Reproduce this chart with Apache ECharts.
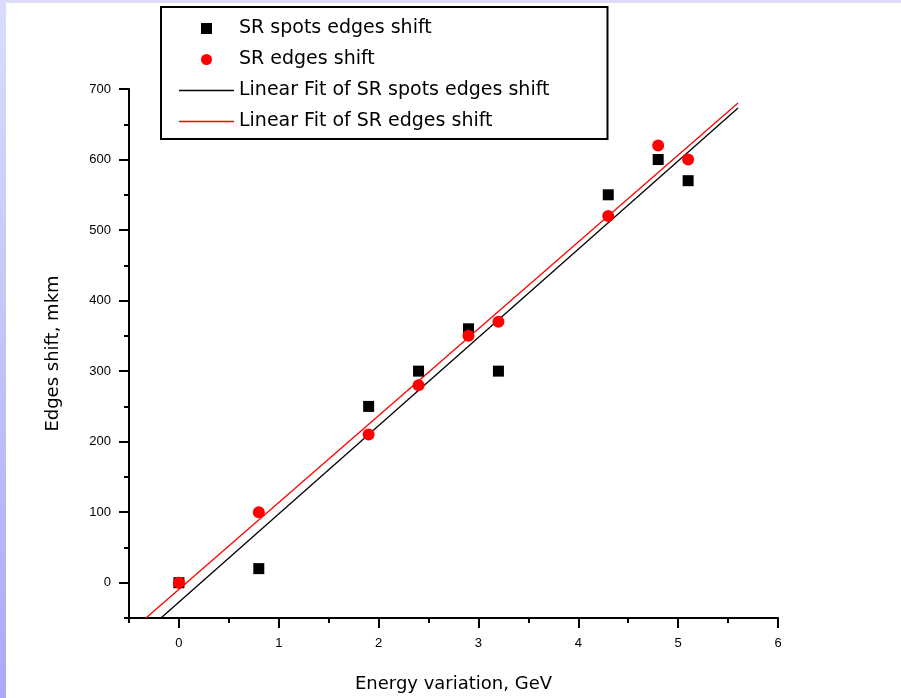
<!DOCTYPE html>
<html>
<head>
<meta charset="utf-8">
<script src="https://cdn.jsdelivr.net/npm/echarts@6/dist/echarts.min.js"></script>
<style>
html, body { margin: 0; padding: 0; background: #fff; }
#chart { width: 901px; height: 698px; }
</style>
</head>
<body>
<div id="chart"></div>
<script>
// measured points
var energyX = [0, 0.8, 1.9, 2.4, 2.9, 3.2, 4.3, 4.8, 5.1];
var spotsShift = [0, 20, 250, 300, 360, 300, 550, 600, 570];
var edgesShift = [0, 100, 210, 280, 350, 370, 520, 620, 600];

// fit line ends
var fitSpotsX = [-0.18, 5.6];
var fitSpotsY = [-50, 673];
var fitEdgesX = [-0.33, 5.6];
var fitEdgesY = [-50, 680];

// ticks
var xMajor = [0, 1, 2, 3, 4, 5, 6];
var xMinor = [-0.5, 0.5, 1.5, 2.5, 3.5, 4.5, 5.5];
var yMajor = [0, 100, 200, 300, 400, 500, 600, 700];
var yMinor = [-50, 50, 150, 250, 350, 450, 550, 650];

var names = ['SR spots edges shift', 'SR edges shift',
    'Linear Fit of SR spots edges shift', 'Linear Fit of SR edges shift'];

function pairs(xs, ys) {
    var out = [];
    for (var i = 0; i < xs.length; i++) out.push([xs[i], ys[i]]);
    return out;
}

var font = 'Liberation Sans, Arial, sans-serif';
var wide = 'DejaVu Sans, sans-serif';
var lineIcon = 'path://M0,0 H55 V1.4 H0 Z';
var squareIcon = 'path://M0,0 H10 V10 H0 Z';

var mychart = echarts.init(document.querySelector('#chart'));
var option = {
    backgroundColor: '#fff',
    animation: false,
    graphic: [
        { type: 'rect', left: 0, top: 0, z: -10, shape: { width: 901, height: 3 },
          style: { fill: '#dcdcf9' } },
        { type: 'rect', left: 0, top: 0, z: -10, shape: { width: 6, height: 698 },
          style: { fill: new echarts.graphic.LinearGradient(0, 0, 0, 1, [
              { offset: 0, color: '#dcdcfa' }, { offset: 1, color: '#aaaaf6' }]) } }
    ],
    grid: { left: 129, right: 123, top: 89, bottom: 79, containLabel: false },
    legend: {
        orient: 'vertical',
        left: 161, top: 7,
        padding: [12, 58, 8, 18],
        itemWidth: 55, itemHeight: 11,
        itemGap: 12,
        symbolKeepAspect: true,
        borderColor: '#000', borderWidth: 2,
        backgroundColor: '#fff',
        textStyle: { fontFamily: wide, fontSize: 19, lineHeight: 18, color: '#000' },
        data: [
            { name: names[0], icon: squareIcon },
            { name: names[1], icon: 'circle' },
            { name: names[2], icon: lineIcon },
            { name: names[3], icon: lineIcon }
        ]
    },
    xAxis: [{
        type: 'value', min: -0.5, max: 6, interval: 0.5,
        name: 'Energy variation, GeV', nameLocation: 'middle', nameGap: 57,
        nameTextStyle: { fontFamily: wide, fontSize: 18, color: '#000' },
        axisLine: { onZero: false, lineStyle: { color: '#000', width: 2 } },
        axisTick: { length: 10, customValues: xMajor, lineStyle: { color: '#000', width: 2 } },
        axisLabel: { fontFamily: font, fontSize: 13, color: '#000', margin: 19, customValues: xMajor },
        splitLine: { show: false }
    }, {
        type: 'value', min: -0.5, max: 6, position: 'bottom', gridIndex: 0,
        axisLine: { show: false, onZero: false },
        axisTick: { length: 5, customValues: xMinor, lineStyle: { color: '#000', width: 2 } },
        axisLabel: { show: false },
        splitLine: { show: false }
    }],
    yAxis: [{
        type: 'value', min: -50, max: 700, interval: 50,
        name: 'Edges shift, mkm', nameLocation: 'middle', nameGap: 67,
        nameTextStyle: { fontFamily: wide, fontSize: 18, color: '#000' },
        axisLine: { onZero: false, lineStyle: { color: '#000', width: 2 } },
        axisTick: { length: 10, customValues: yMajor, lineStyle: { color: '#000', width: 2 } },
        axisLabel: { fontFamily: font, fontSize: 13, color: '#000', margin: 18, customValues: yMajor },
        splitLine: { show: false }
    }, {
        type: 'value', min: -50, max: 700, position: 'left', gridIndex: 0,
        axisLine: { show: false, onZero: false },
        axisTick: { length: 5, customValues: yMinor, lineStyle: { color: '#000', width: 2 } },
        axisLabel: { show: false },
        splitLine: { show: false }
    }],
    series: [
        { name: names[2], type: 'line', data: pairs(fitSpotsX, fitSpotsY), showSymbol: false,
          symbol: 'none', lineStyle: { color: '#000', width: 1.3 }, itemStyle: { color: '#000' }, z: 2 },
        { name: names[3], type: 'line', data: pairs(fitEdgesX, fitEdgesY), showSymbol: false,
          symbol: 'none', lineStyle: { color: '#ff0000', width: 1.3 }, itemStyle: { color: '#ff0000' }, z: 2 },
        { name: names[0], type: 'scatter', data: pairs(energyX, spotsShift), symbol: 'rect',
          symbolSize: 11, itemStyle: { color: '#000', opacity: 1 }, z: 3 },
        { name: names[1], type: 'scatter', data: pairs(energyX, edgesShift), symbol: 'circle',
          symbolSize: 12, itemStyle: { color: '#ff0000', opacity: 1 }, z: 4 }
    ]
};
mychart.setOption(option);
</script>
</body>
</html>
